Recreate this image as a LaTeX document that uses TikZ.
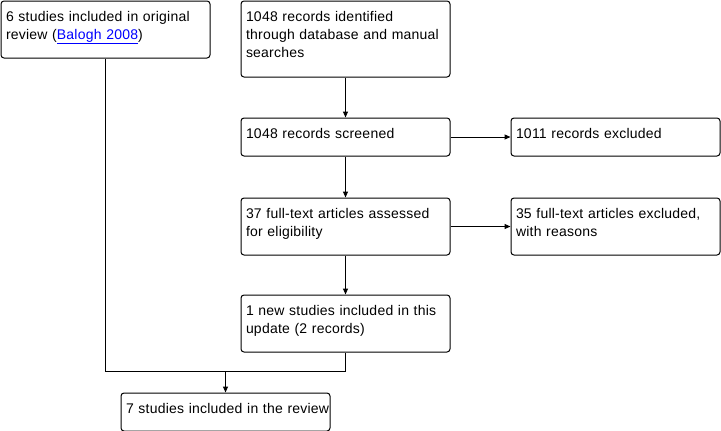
\documentclass[tikz,border=0pt]{standalone}
\usepackage{fontspec}
\setmainfont[LetterSpace=1.6]{Liberation Sans}
\usetikzlibrary{arrows.meta}

\begin{document}
\begin{tikzpicture}[x=1pt, y=-1pt, line width=1pt,
	box/.style={draw, rounded corners=3pt, anchor=north west, align=left,
		text width=199pt, inner xsep=5pt, inner ysep=4pt,
		text height=16pt, text depth=#1,
		font=\fontsize{14}{18}\selectfont},
	>={Triangle[length=6pt,width=5pt]}]
	\useasboundingbox (0,0) rectangle (721,431);

	\node[box=33pt] (orig) at (0.5,0.5) {6 studies included in original\\review (\textcolor{blue}{\underline{Balogh 2008}})};
	\node[box=52pt] (ident) at (240.5,0.5) {1048 records identified\\through database and manual\\searches};
	\node[box=14pt] (screen) at (240.5,117.5) {1048 records screened};
	\node[box=14pt] (excl) at (510.5,117.5) {1011 records excluded};
	\node[box=33pt] (full) at (240.5,197.5) {\mbox{37 full-text articles assessed}\\for eligibility};
	\node[box=33pt] (fullexcl) at (510.5,197.5) {\mbox{35 full-text articles excluded,}\\with reasons};
	\node[box=33pt] (newst) at (240.5,294.5) {\mbox{1 new studies included in this}\\update (2 records)};
	\node[box=14pt] (incl) at (120.5,392.5) {\mbox{7 studies included in the review}};

	\coordinate (merge) at (225.5,371.5);

	\draw[->] (ident.south) -- (screen.north);
	\draw[->] (screen.east) -- (excl.west);
	\draw[->] (screen.south) -- (full.north);
	\draw[->] (full.east) -- (fullexcl.west);
	\draw[->] (full.south) -- (newst.north);

	\draw (orig.south) |- (merge) -| (newst.south);
	\draw[->] (merge) -- (merge |- incl.north);
\end{tikzpicture}
\end{document}
